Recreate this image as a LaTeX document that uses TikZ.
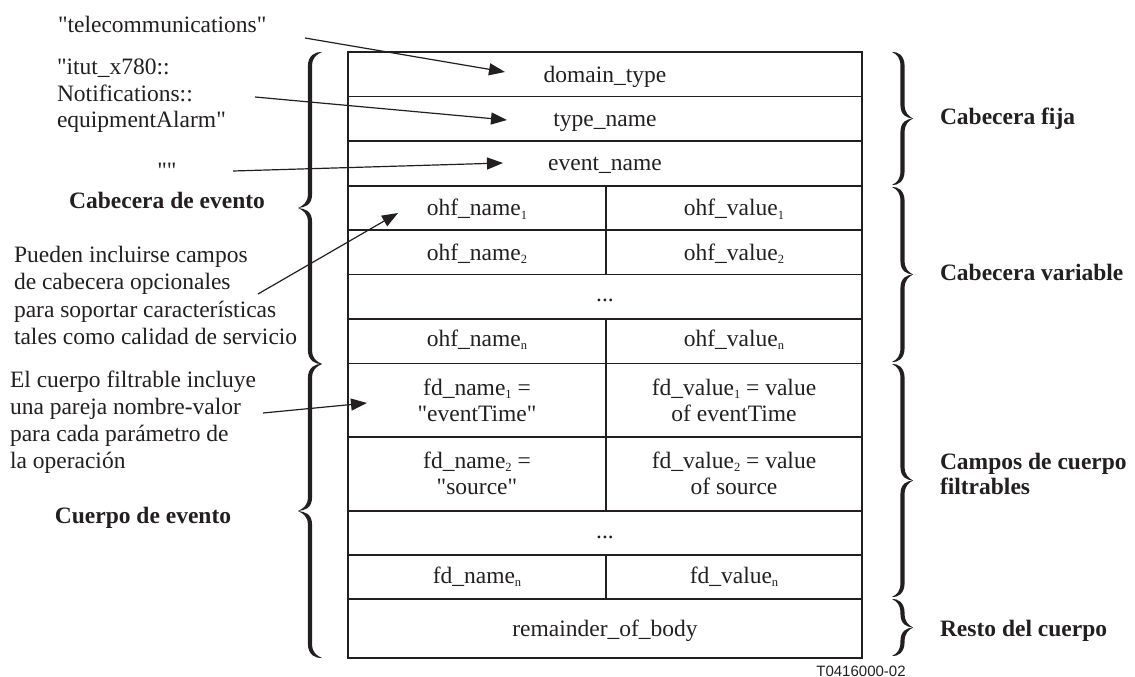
\documentclass[tikz,border=0pt]{standalone}
\usepackage{fontspec}
\setmainfont{Liberation Serif}[Ligatures=TeXOff]
\newfontfamily\labelsans{Liberation Sans}
\usetikzlibrary{arrows.meta}
\definecolor{ink}{HTML}{231F20}
\newcommand\ssub[1]{\raisebox{-3.5pt}{\fontsize{12.5}{12.5}\selectfont #1}}
% filled typographic brace: #1 x of the ends, #2 top y, #3 bottom y, #4 direction (-1 cusp left, +1 cusp right), #5 amplitude
\newcommand\mybrace[5]{%
 \pgfmathsetmacro\bxe{#1}\pgfmathsetmacro\byA{#2}\pgfmathsetmacro\byB{#3}%
 \pgfmathsetmacro\bym{(#2+#3)/2}%
 \pgfmathsetmacro\bxL{#1+#4*(#5/2+2.1)}%
 \pgfmathsetmacro\bxR{#1+#4*(#5/2-2.1)}%
 \pgfmathsetmacro\bxc{#1+#4*#5}%
 \pgfmathsetmacro\bxq{#1+#4*#5/4}%
 \pgfmathsetmacro\bxk{#1+#4*#5*0.8}%
 \pgfmathsetmacro\bxj{#1+#4*#5*0.7}%
 \def\br{14}%
 \fill[ink] (\bxe,\byA) .. controls (\bxq,\byA-0.6) and (\bxL,\byA+3) .. (\bxL,\byA+\br)
   -- (\bxL,\bym-\br) .. controls (\bxL,\bym-5) and (\bxk,\bym-2.4) .. (\bxc,\bym)
   .. controls (\bxk,\bym+2.4) and (\bxL,\bym+5) .. (\bxL,\bym+\br)
   -- (\bxL,\byB-\br) .. controls (\bxL,\byB-3) and (\bxq,\byB+0.6) .. (\bxe,\byB)
   .. controls (\bxq,\byB-2.6) and (\bxR,\byB-6) .. (\bxR,\byB-\br)
   -- (\bxR,\bym+\br) .. controls (\bxR,\bym+3) and (\bxj,\bym+0.6) .. (\bxc,\bym)
   .. controls (\bxj,\bym-0.6) and (\bxR,\bym-3) .. (\bxR,\bym-\br)
   -- (\bxR,\byA+\br) .. controls (\bxR,\byA+6) and (\bxq,\byA+2.6) .. (\bxe,\byA) -- cycle;
}
\begin{document}
\begin{tikzpicture}[x=1pt,y=-1pt,
  every node/.style={inner sep=0pt, outer sep=0pt, text=ink},
  txt/.style={font=\fontsize{23.5}{27}\selectfont},
  cell/.style={txt, anchor=base},
  cell2/.style={font=\fontsize{23.5}{26}\selectfont, anchor=north, align=center},
  bold/.style={font=\fontsize{23.5}{27}\selectfont\bfseries},
  grid/.style={draw=ink, line width=1.2pt},
  arr/.style={draw=ink, line width=1.2pt, -{Triangle[length=16pt,width=12pt]}},
]
\useasboundingbox (0,0) rectangle (1135,677);

% table
\draw[grid] (348,52) rectangle (862,658);
\foreach \yy in {96.5,141,186,230,274.5,319,363.5,437,511,555,599}
  \draw[grid] (348,\yy) -- (862,\yy);
\draw[grid] (606,186) -- (606,274.5);
\draw[grid] (606,319) -- (606,511);
\draw[grid] (606,555) -- (606,599);

% cell texts
\node[cell] (dt) at (605,82.5) {domain\_type};
\node[cell] (tn) at (605,126.5) {type\_name};
\node[cell] (en) at (605,170) {event\_name};
\node[cell] (on1) at (477,215.5) {ohf\_name\ssub{1}};
\node[cell] (ov1) at (734,215.5) {ohf\_value\ssub{1}};
\node[cell] (on2) at (477,260) {ohf\_name\ssub{2}};
\node[cell] (ov2) at (734,260) {ohf\_value\ssub{2}};
\node[cell] (od) at (605,301) {...};
\node[cell] (onn) at (477,346) {ohf\_name\ssub{n}};
\node[cell] (ovn) at (734,346) {ohf\_value\ssub{n}};
\node[cell2] (fn1) at (477,376.8) {\strut fd\_name\ssub{1} =\\"eventTime"};
\node[cell2] (fv1) at (734,376.8) {\strut fd\_value\ssub{1} = value\\of eventTime};
\node[cell2] (fn2) at (477,449.8) {\strut fd\_name\ssub{2} =\\"source"};
\node[cell2] (fv2) at (734,449.8) {\strut fd\_value\ssub{2} = value\\of source};
\node[cell] (fd) at (605,538) {...};
\node[cell] (fnn) at (477,583) {fd\_name\ssub{n}};
\node[cell] (fvn) at (734,583) {fd\_value\ssub{n}};
\node[cell] (rb) at (605,636) {remainder\_of\_body};

% left annotations
\node[txt, anchor=base west] (tel) at (58,33) {"telecommunications"};
\node[txt, anchor=north west, align=left, font=\fontsize{23.5}{26.5}\selectfont] (itu) at (57,56.4) {\strut"itut\_x780::\\Notifications::\\equipmentAlarm"};
\node[txt, anchor=base] (emp) at (167,178) {""};
\node[bold, anchor=base] (cev) at (167,208) {Cabecera de evento};
\node[txt, anchor=north west, align=left, font=\fontsize{23.5}{27.6}\selectfont] (opt) at (14,242.7) {\strut Pueden incluirse campos\\de cabecera opcionales\\para soportar características\\tales como calidad de servicio};
\node[txt, anchor=north west, align=left, font=\fontsize{23.5}{26.7}\selectfont] (flt) at (10,369.3) {\strut El cuerpo filtrable incluye\\una pareja nombre-valor\\para cada parámetro de\\la operación};
\node[bold, anchor=base] (cue) at (143,523) {Cuerpo de evento};

% right labels
\node[bold, anchor=base west] (cfj) at (940,124) {Cabecera fija};
\node[bold, anchor=base west] (cva) at (940,280) {Cabecera variable};
\node[bold, anchor=north west, align=left, font=\fontsize{23.5}{25}\selectfont\bfseries] (ccf) at (940,452) {\strut Campos de cuerpo\\filtrables};
\node[bold, anchor=base west] (rdc) at (940,636) {Resto del cuerpo};

% footer
\node[anchor=base, font=\labelsans\fontsize{15}{15}\selectfont] (ref) at (861,676) {T0416000-02};

% braces
\mybrace{322}{52}{364}{-1}{24}
\mybrace{322}{364}{658}{-1}{24}
\mybrace{892}{52}{185}{1}{21}
\mybrace{892}{187}{362}{1}{21}
\mybrace{892}{364}{597}{1}{21}
\mybrace{892}{599}{656}{1}{21}

% arrows
\coordinate (a1s) at (305,38);  \coordinate (a1e) at (505,72);
\coordinate (a2s) at (255,97);  \coordinate (a2e) at (507,120);
\coordinate (a3s) at (233,171); \coordinate (a3e) at (503,163);
\coordinate (a4s) at (258,294); \coordinate (a4e) at (398,213);
\coordinate (a5s) at (263,413); \coordinate (a5e) at (367,403);
\draw[arr] (a1s) -- (a1e);
\draw[arr] (a2s) -- (a2e);
\draw[arr] (a3s) -- (a3e);
\draw[arr] (a4s) -- (a4e);
\draw[arr] (a5s) -- (a5e);
\end{tikzpicture}
\end{document}
